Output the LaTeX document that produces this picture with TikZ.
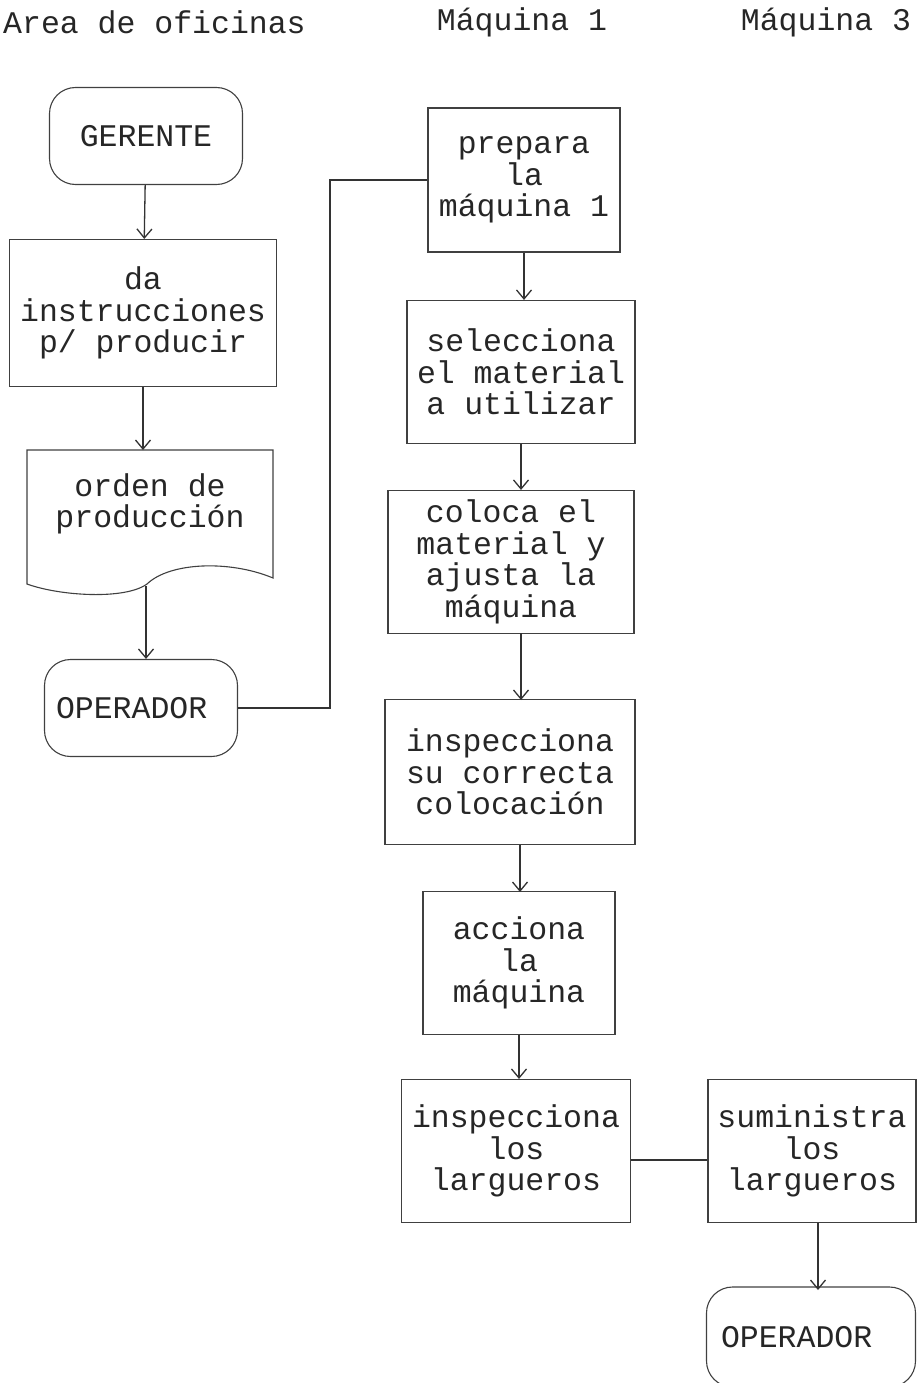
\documentclass[tikz,border=0pt]{standalone}
\usepackage{fontspec}
\setmainfont{Liberation Mono}
\usetikzlibrary{arrows.meta}
\tikzset{
  caja/.style={draw=black!75, line width=1.1pt, align=center, inner sep=0pt},
  terminal/.style={caja, rounded corners=26pt},
  titulo/.style={inner sep=0pt},
  linea/.style={draw=black!80, line width=1.3pt}
}
\begin{document}
\begin{tikzpicture}[x=1pt, y=-1pt, >={Straight Barb[length=9pt,width=15pt]},
  every node/.style={font=\fontsize{31.5}{31.5}\selectfont, text=black!85}]
\useasboundingbox (0,0) rectangle (916,1383);
% encabezados
\node[titulo, anchor=west] (hofi) at (3,22) {Area de oficinas};
\node[titulo] (hm1) at (522,22) {Máquina 1};
\node[titulo] (hm3) at (826,22) {Máquina 3};
% area de oficinas
\node[terminal, minimum width=193pt, minimum height=97pt] (ger) at (146,136) {GERENTE};
\node[caja, minimum width=267pt, minimum height=147pt] (inst) at (143,313) {da\\instrucciones\\p/ producir};
\node[align=center, inner sep=0pt] (orden) at (150,504) {orden de\\producción};
\draw[line width=1.1pt, draw=black!75] (27,450) -- (273,450) -- (273,578)
  .. controls (230,560) and (170,562) .. (147,584)
  .. controls (125,600) and (60,596) .. (27,584) -- cycle;
\coordinate (ordbot) at (146,586);
\node[terminal, minimum width=193pt, minimum height=97pt, text width=170pt, align=left] (op1) at (141,708) {OPERADOR};
% maquina 1
\node[caja, minimum width=192pt, minimum height=144pt] (prep) at (524,180) {prepara\\la\\máquina 1};
\node[caja, minimum width=228pt, minimum height=143pt] (sel) at (521,372) {selecciona\\el material\\a utilizar};
\node[caja, minimum width=246pt, minimum height=143pt] (col) at (511,562) {coloca el\\material y\\ajusta la\\máquina};
\node[caja, minimum width=250pt, minimum height=145pt] (insp) at (510,772) {inspecciona\\su correcta\\colocación};
\node[caja, minimum width=192pt, minimum height=143pt] (acc) at (519,963) {acciona\\la\\máquina};
\node[caja, minimum width=229pt, minimum height=143pt] (lar) at (516,1151) {inspecciona\\los\\largueros};
% maquina 3
\node[caja, minimum width=208pt, minimum height=143pt] (sum) at (812,1151) {suministra\\los\\largueros};
\node[terminal, minimum width=209pt, minimum height=100pt, text width=180pt, align=left] (op2) at (811,1337) {OPERADOR};
\coordinate (codo) at (330,708);
% conexiones
\draw[linea, ->] (ger) -- (inst);
\draw[linea, ->] (inst.south) -- (inst.south |- 0,450);
\draw[linea, ->] (ordbot) -- (ordbot |- op1.north);
\draw[linea] (op1.east) -- (codo) |- (prep.west);
\draw[linea, ->] (prep.south) -- (prep.south |- sel.north);
\draw[linea, ->] (sel.south) -- (sel.south |- col.north);
\draw[linea, ->] (521,633) -- (521,700);
\draw[linea, ->] (520,845) -- (520,892);
\draw[linea, ->] (acc.south) -- (acc.south |- lar.north);
\draw[linea] (lar.east |- 0,1160) -- (sum.west |- 0,1160);
\draw[linea, ->] (818,1223) -- (818,1290);
\end{tikzpicture}
\end{document}
